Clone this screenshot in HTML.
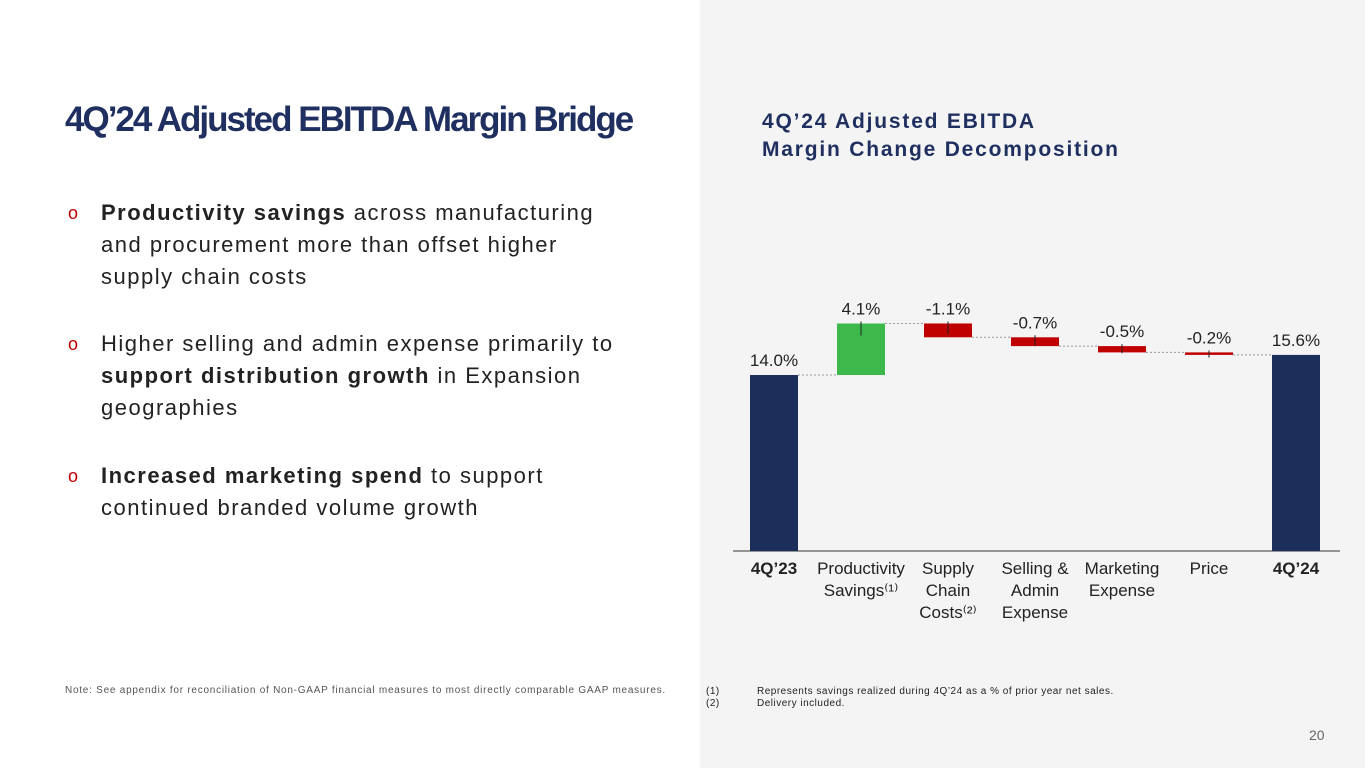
<!DOCTYPE html>
<html><head><meta charset="utf-8"><style>
body{margin:0;width:1365px;height:768px;overflow:hidden;font-family:"Liberation Sans",sans-serif;background:#fff;position:relative}
.right{position:absolute;left:700px;top:0;width:665px;height:768px;background:#f4f4f4}
h1{position:absolute;left:65px;top:100px;margin:0;font-size:35px;letter-spacing:-2px;color:#1f3060;font-weight:bold}
.ct{position:absolute;left:762px;top:108px;font-size:21px;font-weight:bold;color:#1f3060;line-height:28px;letter-spacing:1.8px}
.b{position:absolute;left:68px;font-size:22px;color:#222;line-height:32px;letter-spacing:1.5px}
.b .o{position:absolute;left:0;color:#c00000;font-size:18px}
.b .t{margin-left:33px;display:block}
.note{position:absolute;left:65px;top:685px;font-size:10px;color:#555;letter-spacing:0.75px}
.fn{position:absolute;left:706px;top:686px;font-size:10px;color:#222;line-height:12px;letter-spacing:0.5px}
.fn span{position:absolute;left:51px;white-space:nowrap}
.pg{position:absolute;left:1309px;top:727px;font-size:14px;color:#666}
</style></head><body>
<div class="right"></div>
<h1>4Q’24 Adjusted EBITDA Margin Bridge</h1>
<div class="ct">4Q’24 Adjusted EBITDA<br>Margin Change Decomposition</div>
<div class="b" style="top:197px"><span class="o">o</span><span class="t"><b>Productivity savings</b> across manufacturing<br>and procurement more than offset higher<br>supply chain costs</span></div>
<div class="b" style="top:328px"><span class="o">o</span><span class="t">Higher selling and admin expense primarily to<br><b>support distribution growth</b> in Expansion<br>geographies</span></div>
<div class="b" style="top:460px"><span class="o">o</span><span class="t"><b>Increased marketing spend</b> to support<br>continued branded volume growth</span></div>
<div class="note">Note: See appendix for reconciliation of Non-GAAP financial measures to most directly comparable GAAP measures.</div>
<div class="fn">(1)<span>Represents savings realized during 4Q’24 as a % of prior year net sales.</span><br>(2)<span style="top:12px">Delivery included.</span></div>
<div class="pg">20</div>
<svg id="ch" width="1365" height="768" style="position:absolute;left:0;top:0"></svg>
<script>
const categories=[["4Q’23"],["Productivity","Savings⁽¹⁾"],["Supply","Chain","Costs⁽²⁾"],["Selling &","Admin","Expense"],["Marketing","Expense"],["Price"],["4Q’24"]];
const values=[14.0,4.1,-1.1,-0.7,-0.5,-0.2,15.6];
const labels=["14.0%","4.1%","-1.1%","-0.7%","-0.5%","-0.2%","15.6%"];
const svg=document.getElementById('ch');const NS="http://www.w3.org/2000/svg";
const base=551,scale=12.57,x0=750,step=87,bw=48;
const y=v=>base-v*scale;
function mk(t,a){const e=document.createElementNS(NS,t);for(const k in a)e.setAttribute(k,a[k]);svg.appendChild(e);return e;}
const ax=mk('line',{x1:733,x2:1340,y1:base,y2:base,stroke:'#333','stroke-width':1});


let run=0;
values.forEach((v,i)=>{
 const x=x0+i*step;let top,bot,col;
 const total=(i==0||i==values.length-1);
 if(total){top=y(v);bot=base;col='#1c2f5a';run=v;}
 else{const s=run,e=run+v;top=y(Math.max(s,e));bot=y(Math.min(s,e));col=v>0?'#3cb94a':'#c00000';run=e;}
 const r=mk('rect',{x:x,y:top,width:bw,height:Math.max(bot-top,1),fill:col});
 
 
 if(!total){mk('line',{x1:x+bw/2,x2:x+bw/2,y1:top-2,y2:top+Math.min(12,(bot-top)/2+4),stroke:'#222','stroke-width':1});}
 if(i<values.length-1){const ly=y(run);mk('line',{x1:x+bw,x2:x+step,y1:ly,y2:ly,stroke:'#999','stroke-width':1,'stroke-dasharray':'2,2'});}
 const t=mk('text',{x:x+bw/2,y:top-9,'text-anchor':'middle','font-size':17,fill:'#222','font-family':'Liberation Sans'});t.textContent=labels[i];
 
 
 categories[i].forEach((ln,j)=>{const c=mk('text',{x:x+bw/2,y:574+j*22,'text-anchor':'middle','font-size':17,fill:'#222','font-weight':total?'bold':'normal','font-family':'Liberation Sans'});c.textContent=ln;
 
 });
});
</script>
</body></html>
